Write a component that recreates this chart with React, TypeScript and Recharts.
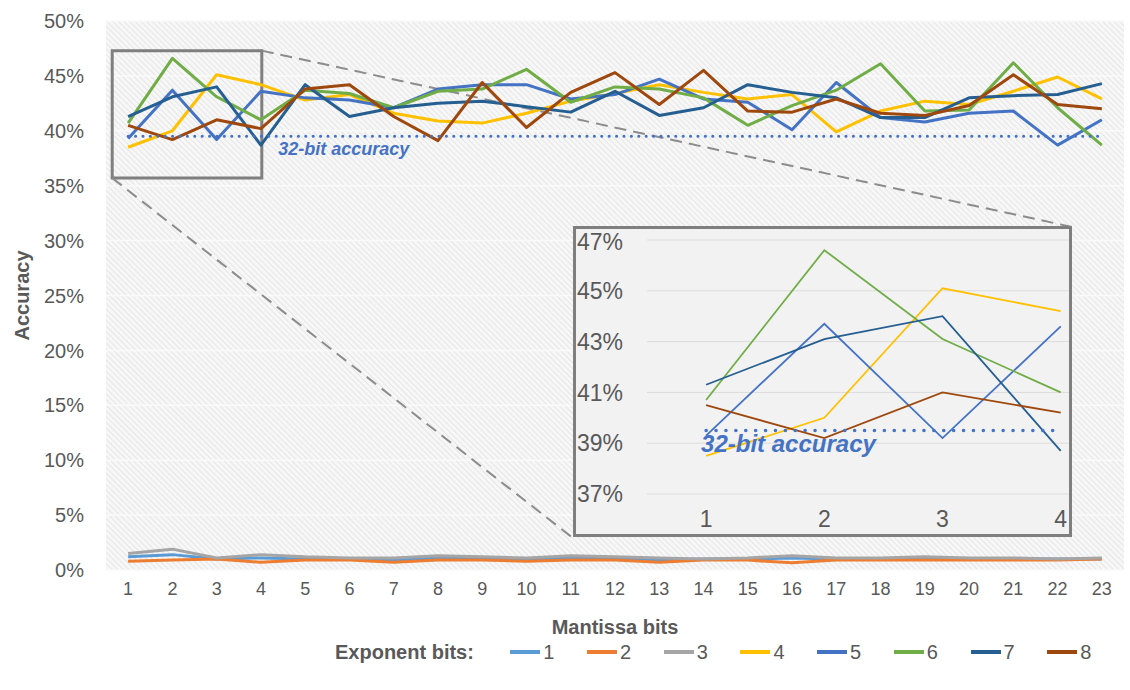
import React from 'react';
import {
  LineChart,
  Line,
  XAxis,
  YAxis,
  CartesianGrid,
  ReferenceLine,
  ReferenceArea,
  Legend,
} from 'recharts';

// Mantissa bits on the x axis, one line per exponent width
const mantissaBits = [1, 2, 3, 4, 5, 6, 7, 8, 9, 10, 11, 12, 13, 14, 15, 16, 17, 18, 19, 20, 21, 22, 23];
const exponentBits = [1, 2, 3, 4, 5, 6, 7, 8];
const exponentColors = ['#5B9BD5', '#ED7D31', '#A5A5A5', '#FFC000', '#4472C4', '#70AD47', '#255E91', '#9E480E'];

// accuracy in %
const accE1 = [1.2, 1.4, 1.0, 1.1, 1.0, 1.0, 0.9, 1.1, 1.0, 1.0, 1.1, 1.0, 0.9, 1.0, 1.0, 1.1, 1.0, 1.0, 1.0, 1.0, 1.0, 1.0, 1.0];
const accE2 = [0.8, 0.9, 1.0, 0.7, 0.9, 0.9, 0.7, 0.9, 0.9, 0.8, 0.9, 0.9, 0.7, 0.9, 0.9, 0.65, 0.9, 0.9, 0.9, 0.9, 0.9, 0.9, 1.0];
const accE3 = [1.5, 1.9, 1.1, 1.4, 1.2, 1.1, 1.1, 1.3, 1.2, 1.1, 1.3, 1.2, 1.1, 1.0, 1.1, 1.3, 1.1, 1.1, 1.2, 1.1, 1.1, 1.0, 1.1];
const accE4 = [38.5, 40.0, 45.1, 44.2, 42.8, 43.3, 41.6, 40.9, 40.7, 41.6, 42.7, 43.4, 44.2, 43.5, 42.9, 43.3, 39.9, 41.8, 42.7, 42.4, 43.6, 44.9, 42.9];
const accE5 = [39.3, 43.7, 39.2, 43.6, 43.0, 42.8, 42.1, 43.8, 44.2, 44.2, 42.9, 43.3, 44.7, 42.9, 42.6, 40.1, 44.4, 41.2, 40.8, 41.6, 41.8, 38.7, 41.0];
const accE6 = [40.7, 46.6, 43.1, 41.0, 43.7, 43.4, 42.1, 43.6, 43.8, 45.6, 42.6, 44.0, 43.8, 43.0, 40.5, 42.3, 43.7, 46.1, 41.8, 41.9, 46.2, 42.1, 38.7];
const accE7 = [41.3, 43.1, 44.0, 38.7, 44.2, 41.3, 42.1, 42.5, 42.7, 42.2, 41.7, 43.6, 41.4, 42.1, 44.2, 43.5, 43.0, 41.2, 41.2, 43.0, 43.2, 43.3, 44.3];
const accE8 = [40.5, 39.2, 41.0, 40.2, 43.8, 44.2, 41.3, 39.1, 44.4, 40.3, 43.5, 45.3, 42.4, 45.5, 41.8, 41.7, 42.9, 41.6, 41.4, 42.3, 45.1, 42.4, 42.0];
const accuracySeries = [accE1, accE2, accE3, accE4, accE5, accE6, accE7, accE8];

const fp32Accuracy = 39.5;
const yTicks = [0, 5, 10, 15, 20, 25, 30, 35, 40, 45, 50];

// zoomed inset
const insetBits = [1, 2, 3, 4];
const insetExponents = [4, 5, 6, 7, 8];
const insetYTicks = [37, 39, 41, 43, 45, 47];

// zoom box + connector lines, in data units of the main chart
const zoomBox = { x1: 0.64, x2: 4.02, y1: 35.7, y2: 47.3 };
const connectorTop = [{ x: 4.02, y: 47.3 }, { x: 22.33, y: 31.24 }];
const connectorBottom = [{ x: 0.64, y: 35.7 }, { x: 11.05, y: 2.91 }];

const FONT = '"Liberation Sans", Arial, sans-serif';
const TEXT = '#595959';

const pct = (v: number) => `${v}%`;

const boundaryLines = (bounds: number[]) => (props: any) => {
  const s = props?.xAxis?.scale;
  if (typeof s !== 'function') return [];
  return bounds.map(b => s(b));
};

function ExponentLegend({ payload }: any) {
  return (
    <div style={{ display: 'flex', alignItems: 'center', height: 24, paddingLeft: 335, fontSize: 20, color: TEXT, fontFamily: FONT }}>
      <span style={{ fontWeight: 700, width: 185 }}>Exponent bits:</span>
      {(payload || []).map((p: any) => (
        <span key={p.value} style={{ display: 'flex', alignItems: 'center', width: 81 }}>
          <span style={{ width: 30, height: 4, background: p.color, marginRight: 3 }} />
          <span>{p.value}</span>
        </span>
      ))}
    </div>
  );
}

const fp32Label = (dx: number, dy: number, size: number) => (props: any) => {
  const vb = props.viewBox || {};
  return (
    <text
      x={(vb.x || 0) + dx}
      y={(vb.y || 0) + dy}
      fill="#4472C4"
      fontSize={size}
      fontWeight={700}
      fontStyle="italic"
      fontFamily={FONT}
    >
      32-bit accuracy
    </text>
  );
};

export default function App() {
  const rows = mantissaBits.map((m, i) => {
    const row: Record<string, number> = { m };
    exponentBits.forEach((e, k) => {
      row[`e${e}`] = accuracySeries[k][i];
    });
    return row;
  });
  const insetRows = rows.filter(r => insetBits.includes(r.m));
  const mainBounds = mantissaBits.slice(1).map(m => m - 0.5);
  const insetBounds = [0.5, ...insetBits.slice(1).map(m => m - 0.5)];

  return (
    <div style={{ position: 'absolute', left: 0, top: 0, width: 1130, height: 690, background: '#fff', fontFamily: FONT }}>
      <LineChart width={1130} height={690} data={rows} margin={{ top: 21, right: 6, left: 0, bottom: 26 }}>
        <defs>
          <pattern id="hatch" width="4" height="4" patternUnits="userSpaceOnUse" patternTransform="rotate(-45)">
            <rect width="4" height="4" fill="#f7f7f7" />
            <line x1="0" y1="0" x2="0" y2="4" stroke="#d6d6d6" strokeWidth="1" />
          </pattern>
        </defs>
        <CartesianGrid
          fill="url(#hatch)"
          stroke="#fafafa"
          strokeWidth={1.5}
          verticalCoordinatesGenerator={boundaryLines(mainBounds)}
        />
        <XAxis
          dataKey="m"
          type="number"
          domain={[0.5, 23.5]}
          ticks={mantissaBits}
          height={70}
          tickSize={0}
          tickMargin={12}
          axisLine={false}
          tick={{ fontSize: 18, fill: TEXT }}
          label={{ value: 'Mantissa bits', position: 'insideBottom', offset: 6, fill: TEXT, fontSize: 20, fontWeight: 700 }}
        />
        <YAxis
          domain={[0, 50]}
          ticks={yTicks}
          width={106}
          tickSize={0}
          tickMargin={22}
          axisLine={false}
          tickFormatter={pct}
          tick={{ fontSize: 20, fill: TEXT }}
          label={{ value: 'Accuracy', angle: -90, position: 'insideLeft', offset: 22, fill: TEXT, fontSize: 20, fontWeight: 700, style: { textAnchor: 'middle' } }}
        />
        <Legend verticalAlign="bottom" align="left" content={<ExponentLegend />} />
        <ReferenceLine
          segment={connectorTop}
          stroke="#8c8c8c"
          strokeWidth={2}
          strokeDasharray="12 7"
          ifOverflow="visible"
        />
        <ReferenceLine
          segment={connectorBottom}
          stroke="#8c8c8c"
          strokeWidth={2}
          strokeDasharray="12 7"
          ifOverflow="visible"
        />
        {exponentBits.map((e, k) => (
          <Line
            key={e}
            type="linear"
            dataKey={`e${e}`}
            name={String(e)}
            stroke={exponentColors[k]}
            strokeWidth={3}
            strokeLinejoin="round"
            dot={false}
            activeDot={false}
            isAnimationActive={false}
          />
        ))}
        <ReferenceLine
          segment={[{ x: mantissaBits[0], y: fp32Accuracy }, { x: mantissaBits[mantissaBits.length - 1], y: fp32Accuracy }]}
          stroke="#4472C4"
          strokeWidth={3}
          strokeDasharray="0.1 7.3"
          strokeLinecap="round"
          label={fp32Label(150, 19, 18)}
        />
        <ReferenceArea
          x1={zoomBox.x1}
          x2={zoomBox.x2}
          y1={zoomBox.y1}
          y2={zoomBox.y2}
          fill="none"
          fillOpacity={0}
          stroke="#7f7f7f"
          strokeWidth={3}
          ifOverflow="visible"
        />
      </LineChart>

      <div
        style={{
          position: 'absolute',
          left: 573,
          top: 226,
          width: 499,
          height: 311,
          boxSizing: 'border-box',
          border: '3px solid #7f7f7f',
          background: '#f2f2f2',
          overflow: 'hidden',
        }}
      >
        <LineChart width={493} height={305} data={insetRows} margin={{ top: 11, right: 0, left: 0, bottom: 0 }}>
          <CartesianGrid
            stroke="#dcdcdc"
            verticalCoordinatesGenerator={boundaryLines(insetBounds)}
          />
          <XAxis
            dataKey="m"
            type="number"
            domain={[0.5, 4.07]}
            ticks={insetBits}
            allowDataOverflow
            height={40}
            tickSize={0}
            tickMargin={17}
            axisLine={false}
            tick={{ fontSize: 23, fill: TEXT }}
          />
          <YAxis
            domain={[37, 47]}
            ticks={insetYTicks}
            allowDataOverflow
            width={71}
            tickSize={0}
            tickMargin={24}
            axisLine={false}
            tickFormatter={pct}
            tick={{ fontSize: 23, fill: TEXT }}
          />
          {insetExponents.map(e => (
            <Line
              key={e}
              type="linear"
              dataKey={`e${e}`}
              stroke={exponentColors[e - 1]}
              strokeWidth={1.8}
              dot={false}
              activeDot={false}
              isAnimationActive={false}
            />
          ))}
          <ReferenceLine
            segment={[{ x: insetBits[0], y: fp32Accuracy }, { x: insetBits[insetBits.length - 1], y: fp32Accuracy }]}
            stroke="#4472C4"
            strokeWidth={3.5}
            strokeDasharray="0.1 9.8"
            strokeLinecap="round"
            label={fp32Label(-5, 21, 24)}
          />
        </LineChart>
      </div>
    </div>
  );
}
